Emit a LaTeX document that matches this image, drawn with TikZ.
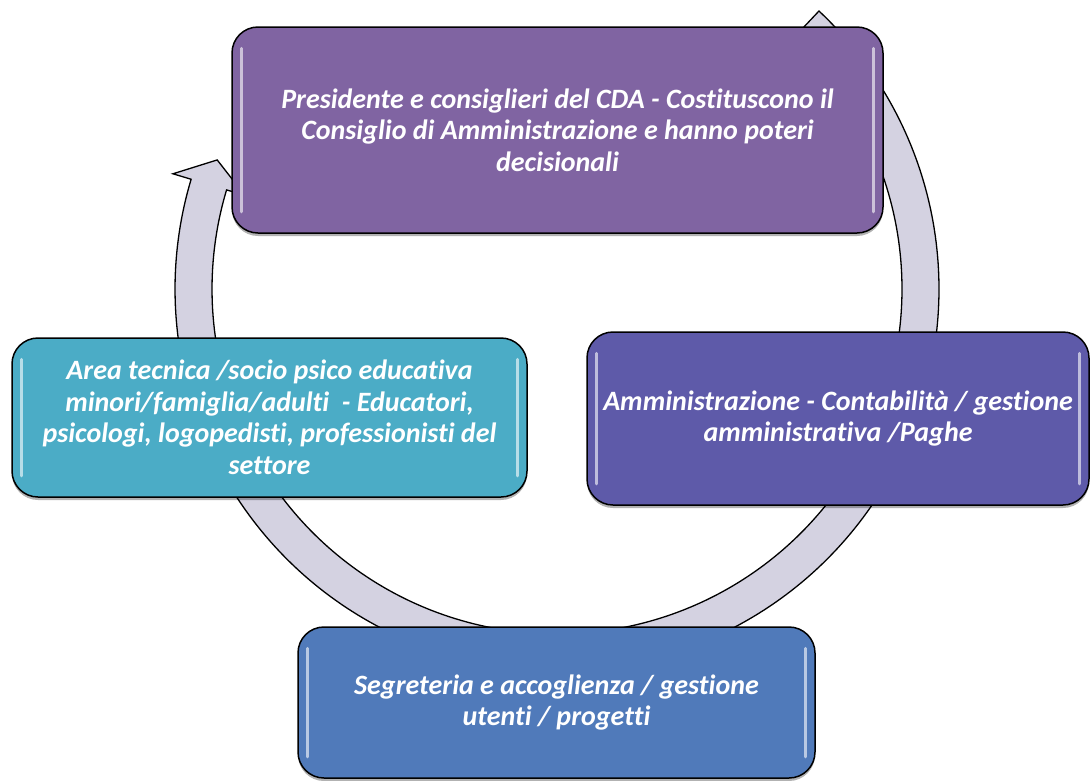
\documentclass[tikz,border=0pt]{standalone}
\usepackage{fontspec}
\setmainfont[Ligatures=NoCommon]{Carlito}
\usetikzlibrary{shadows}

\definecolor{boardviolet}{HTML}{8064A2}
\definecolor{adminindigo}{HTML}{5E5AA9}
\definecolor{officeblue}{HTML}{507ABA}
\definecolor{areateal}{HTML}{4BACC6}
\definecolor{ringfill}{HTML}{D4D2E1}

\tikzset{
  stage/.style={draw=black, line width=1.5pt, rounded corners=26pt,
    text=white, align=center, inner sep=0pt,
    font=\fontsize{28}{31.5}\selectfont\bfseries\itshape,
    drop shadow={shadow xshift=0pt, shadow yshift=-3pt, opacity=0.3, fill=black}},
  ring/.style={fill=ringfill, draw=black, line width=1.3pt, line join=miter},
  gloss/.style={draw=white, line width=3pt, line cap=round, opacity=0.6},
}

\begin{document}
\begin{tikzpicture}[x=1pt, y=-1pt]
  \useasboundingbox (0,0) rectangle (1091,780);
  \clip (0,0) rectangle (1091,780);

  % circular arrow band, running clockwise from its flat tail to its head
  \draw[ring]
    plot[domain=46.7:-196.7, samples=240] ({557+382*cos(\x)},{289-382*sin(\x)})
    -- ({557+401*cos(163.3)},{289-401*sin(163.3)})
    -- ({557+363.5*cos(159.2)},{289-363.5*sin(159.2)})
    -- ({557+326*cos(163.3)},{289-326*sin(163.3)})
    -- plot[domain=-196.7:46.7, samples=240] ({557+345*cos(\x)},{289-345*sin(\x)})
    -- cycle;

  % the four stages
  \node[stage, fill=boardviolet, minimum width=651pt, minimum height=206pt]
    (board) at (557.5,130)
    {Presidente e consiglieri del CDA - Costituscono il\\
     Consiglio di Amministrazione e hanno poteri\\
     decisionali};

  \node[stage, fill=adminindigo, minimum width=502pt, minimum height=173pt]
    (admin) at (838,418.5)
    {Amministrazione - Contabilità / gestione\\
     amministrativa /Paghe};

  \node[stage, fill=officeblue, minimum width=517pt, minimum height=151pt]
    (office) at (556.5,702.5)
    {Segreteria e accoglienza / gestione\\
     utenti / progetti};

  \node[stage, fill=areateal, minimum width=515pt, minimum height=159pt]
    (area) at (269.5,417.5)
    {Area tecnica /socio psico educativa\\
     minori/famiglia/adulti~ - Educatori,\\
     psicologi, logopedisti, professionisti del\\
     settore};

  % polished highlights along the side edges
  \foreach \n in {board,admin,office,area}{
    \draw[gloss] ([xshift=10pt, yshift=-22pt]\n.north west)
              -- ([xshift=10pt, yshift=22pt]\n.south west);
    \draw[gloss] ([xshift=-10pt, yshift=-22pt]\n.north east)
              -- ([xshift=-10pt, yshift=22pt]\n.south east);
  }
\end{tikzpicture}
\end{document}
